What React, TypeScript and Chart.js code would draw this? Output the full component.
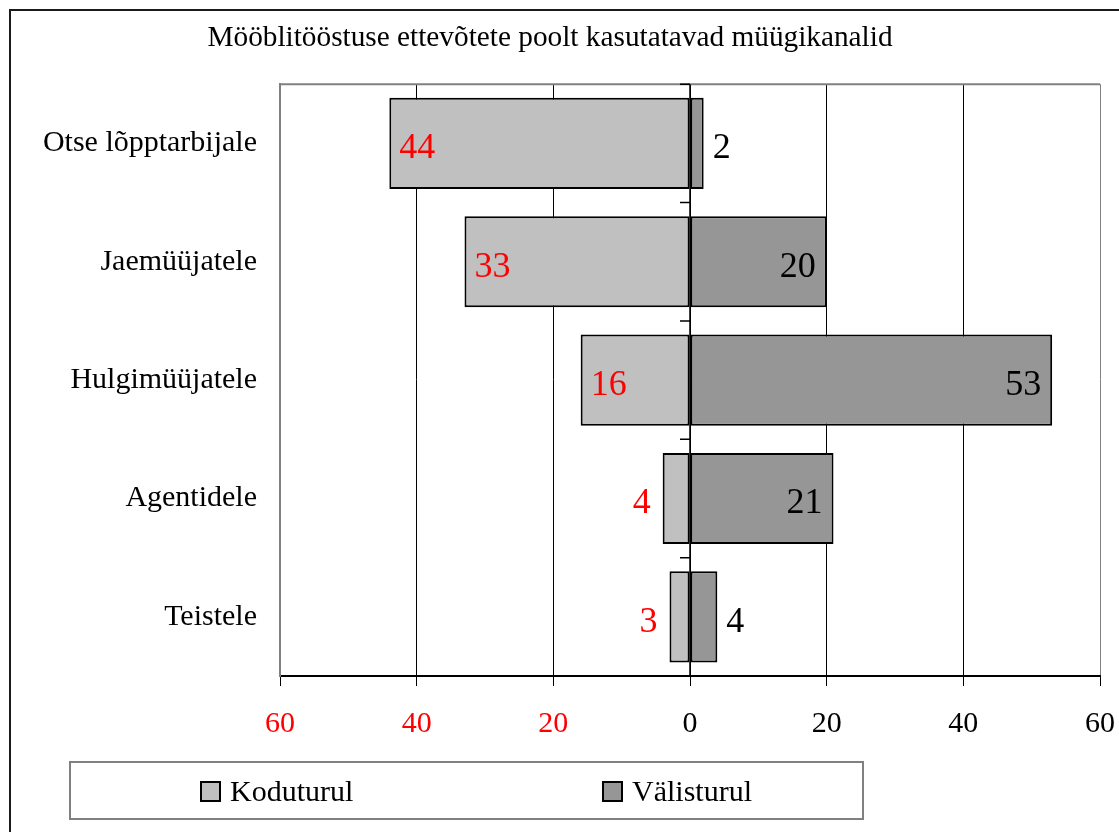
import React, { useEffect, useRef } from 'react';
import { Chart, registerables } from 'chart.js';

Chart.register(...registerables);

const chartTitle = 'Mööblitööstuse ettevõtete poolt kasutatavad müügikanalid';
const categories = ['Otse lõpptarbijale', 'Jaemüüjatele', 'Hulgimüüjatele', 'Agentidele', 'Teistele'];
const domesticLabel = 'Koduturul';
const foreignLabel = 'Välisturul';
const domesticValues = [44, 33, 16, 4, 3];
const foreignValues = [2, 20, 53, 21, 4];
const axisMin = -60;
const axisMax = 60;
const axisStep = 20;

const domesticColor = '#C0C0C0';
const foreignColor = '#969696';
const FONT = '"Liberation Serif", "Times New Roman", Times, serif';

const decorPlugin = {
  id: 'decor',
  beforeDraw(chart: any) {
    const ctx = chart.ctx;
    ctx.save();
    ctx.fillStyle = '#ffffff';
    ctx.fillRect(0, 0, chart.width, chart.height);
    ctx.strokeStyle = '#1a1a1a';
    ctx.lineWidth = 2;
    ctx.beginPath();
    ctx.moveTo(10, chart.height + 2);
    ctx.lineTo(10, 10);
    ctx.lineTo(chart.width + 2, 10);
    ctx.stroke();
    ctx.restore();
  },
  afterDatasetsDraw(chart: any) {
    const ctx = chart.ctx;
    const a = chart.chartArea;
    const xs = chart.scales.x;
    const x0 = xs.getPixelForValue(0);
    ctx.save();
    // top border of plot area
    ctx.strokeStyle = '#808080';
    ctx.lineWidth = 2;
    ctx.beginPath();
    ctx.moveTo(a.left, a.top);
    ctx.lineTo(a.right, a.top);
    ctx.stroke();
    // category axis at zero with ticks between categories
    ctx.strokeStyle = '#000';
    ctx.lineWidth = 1.5;
    ctx.beginPath();
    ctx.moveTo(x0, a.top);
    ctx.lineTo(x0, a.bottom);
    const n = categories.length;
    const band = (a.bottom - a.top) / n;
    for (let i = 0; i <= n; i++) {
      const y = a.top + i * band;
      ctx.moveTo(x0 - 10, y);
      ctx.lineTo(x0, y);
    }
    ctx.stroke();

    // data labels
    ctx.font = `36px ${FONT}`;
    ctx.textBaseline = 'alphabetic';
    chart.data.datasets.forEach((ds: any, di: number) => {
      const meta = chart.getDatasetMeta(di);
      meta.data.forEach((el: any, i: number) => {
        const v = Math.abs(ds.data[i]);
        const text = String(v);
        const tw = ctx.measureText(text).width;
        const len = Math.abs(el.x - el.base);
        const y = el.y + 15;
        if (di === 0) {
          ctx.fillStyle = '#FF0000';
          if (len > tw + 20) {
            ctx.textAlign = 'left';
            ctx.fillText(text, el.x + 10, y);
          } else {
            ctx.textAlign = 'right';
            ctx.fillText(text, el.x - 12, y);
          }
        } else {
          ctx.fillStyle = '#000';
          if (len > tw + 20) {
            ctx.textAlign = 'right';
            ctx.fillText(text, el.x - 11, y);
          } else {
            ctx.textAlign = 'left';
            ctx.fillText(text, el.x + 9, y);
          }
        }
      });
    });
    ctx.restore();
  },
  afterDraw(chart: any) {
    const ctx = chart.ctx;
    ctx.save();
    ctx.strokeStyle = '#808080';
    ctx.lineWidth = 2;
    ctx.strokeRect(70, 762, 793, 57);
    ctx.font = `30px ${FONT}`;
    ctx.textAlign = 'left';
    ctx.textBaseline = 'alphabetic';
    chart.data.datasets.forEach((ds: any, i: number) => {
      const sx = 200 + i * 402;
      ctx.fillStyle = ds.backgroundColor;
      ctx.fillRect(sx, 781, 21, 21);
      ctx.strokeStyle = '#000';
      ctx.lineWidth = 2;
      ctx.strokeRect(sx + 1, 782, 19, 19);
      ctx.fillStyle = '#000';
      ctx.fillText(ds.label, sx + 30, 801);
    });
    ctx.restore();
  },
};

export default function App() {
  const canvasRef = useRef<HTMLCanvasElement | null>(null);

  useEffect(() => {
    if (!canvasRef.current) return;
    const chart = new Chart(canvasRef.current, {
      type: 'bar',
      data: {
        labels: categories,
        datasets: [
          {
            label: domesticLabel,
            data: domesticValues.map((v) => -v),
            backgroundColor: domesticColor,
            borderColor: '#000',
            borderWidth: 2,
            borderSkipped: false,
            barPercentage: 0.77,
            categoryPercentage: 1,
          },
          {
            label: foreignLabel,
            data: foreignValues,
            backgroundColor: foreignColor,
            borderColor: '#000',
            borderWidth: 2,
            borderSkipped: false,
            barPercentage: 0.77,
            categoryPercentage: 1,
          },
        ],
      },
      options: {
        indexAxis: 'y',
        animation: false,
        responsive: false,
        maintainAspectRatio: false,
        layout: { padding: { left: 0, right: 19, top: 0, bottom: 0 } },
        plugins: {
          legend: { display: false },
          tooltip: { enabled: false },
          title: {
            display: true,
            text: chartTitle,
            color: '#000',
            font: { family: FONT, size: 29.3, weight: 'normal' },
            padding: { top: 21, bottom: 28 },
          },
        },
        scales: {
          x: {
            type: 'linear',
            stacked: true,
            min: axisMin,
            max: axisMax,
            afterFit: (scale: any) => {
              scale.height = 156;
              scale.paddingLeft = 0;
              scale.paddingRight = 0;
            },
            ticks: {
              stepSize: axisStep,
              padding: 20,
              maxRotation: 0,
              color: (ctx: any) => (ctx.tick && ctx.tick.value < 0 ? '#FF0000' : '#000'),
              font: { family: FONT, size: 30 },
              callback: (v: any) => String(Math.abs(Number(v))),
            },
            grid: {
              display: true,
              drawOnChartArea: true,
              drawTicks: true,
              tickLength: 10,
              tickColor: '#000',
              lineWidth: 1,
              color: (ctx: any) =>
                ctx.tick && Math.abs(ctx.tick.value) === axisMax ? '#808080' : '#000',
            },
            border: { display: true, color: '#000', width: 2 },
          },
          y: {
            type: 'category',
            stacked: true,
            afterFit: (scale: any) => {
              scale.width = 280;
            },
            ticks: {
              padding: 23,
              color: '#000',
              font: { family: FONT, size: 30 },
            },
            grid: { display: false, drawTicks: false },
            border: { display: true, color: '#808080', width: 2 },
          },
        },
      },
      plugins: [decorPlugin],
    } as any);
    return () => chart.destroy();
  }, []);

  return (
    <div style={{ position: 'absolute', left: 0, top: 0, width: 1119, height: 832, overflow: 'hidden', background: '#fff' }}>
      <canvas ref={canvasRef} width={1119} height={832} style={{ width: 1119, height: 832, display: 'block' }} />
    </div>
  );
}
